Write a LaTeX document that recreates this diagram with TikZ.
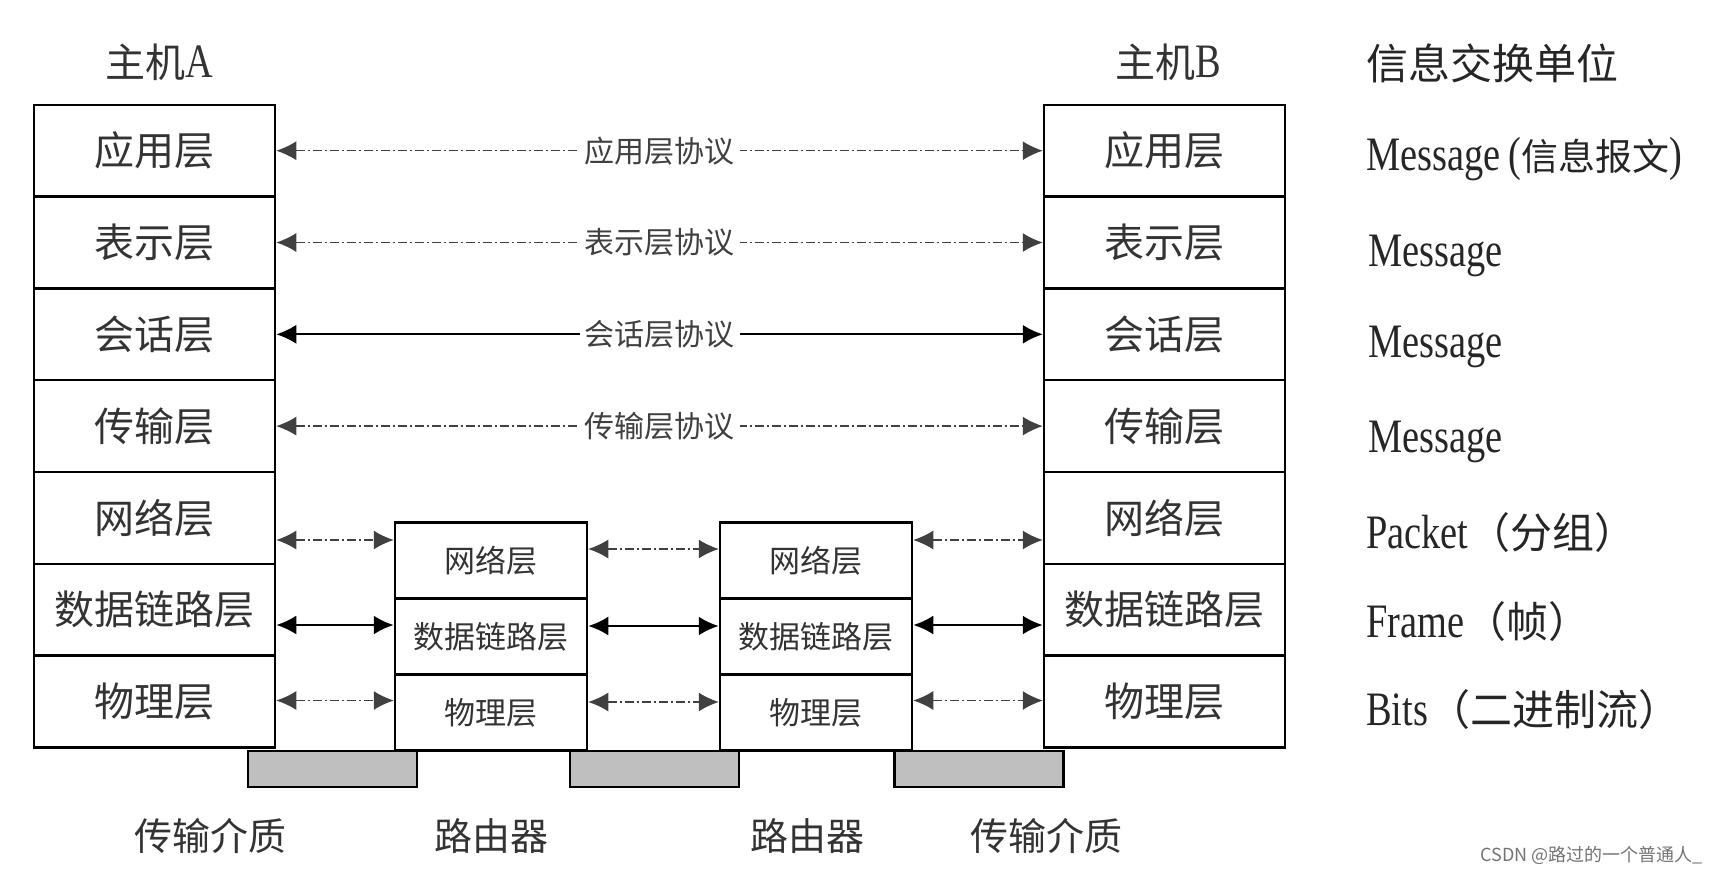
\documentclass[tikz,border=0pt]{standalone}
\usepackage{fontspec}
\setmainfont{Liberation Serif}[FakeStretch=0.8]
\newfontfamily\cjk{Noto Sans CJK SC}
\usetikzlibrary{arrows.meta,positioning}

\newcommand\lat[1]{{\rmfamily\fontsize{48}{48}\selectfont #1}}

\tikzset{
  layer/.style={draw,line width=2.5pt,minimum width=241pt,minimum height=91.8pt,inner sep=0pt,
    font=\cjk\fontsize{40}{40}\selectfont,text=black!80},
  rlayer/.style={draw,line width=2.5pt,minimum width=192pt,minimum height=76pt,inner sep=0pt,
    font=\cjk\fontsize{31}{31}\selectfont,text=black!80},
  medium/.style={draw,line width=2.5pt,fill=black!25,minimum width=169pt,minimum height=36pt,inner sep=0pt},
  tip/.style={{Latex[length=20pt,width=19pt]}-{Latex[length=20pt,width=19pt]}},
  lowdash/.style={tip,line width=1.3pt,black!75,dash pattern=on 9pt off 3pt on 2pt off 3pt},
  lowsolid/.style={tip,line width=2.5pt,black},
  proto/.style={lowdash},
  protosolid/.style={tip,line width=1.8pt,black},
  plabel/.style={fill=white,inner sep=5pt,font=\cjk\fontsize{30}{30}\selectfont,text=black!75},
  title/.style={inner sep=0pt,font=\cjk\fontsize{40}{40}\selectfont,text=black!80},
  unit/.style={anchor=base west,inner sep=0pt,font=\cjk\fontsize{42}{42}\selectfont,text=black!85}
}

\begin{document}
\begin{tikzpicture}[x=1pt,y=-1pt]
\useasboundingbox (0,0) rectangle (1711,876);

% the two hosts
\foreach \t [count=\i] in {应用层,表示层,会话层,传输层,网络层,数据链路层,物理层}{
  \node[layer] (a\i) at (154.5,58.9+91.8*\i) {\t};
  \node[layer] (b\i) at (1164.5,58.9+91.8*\i) {\t};
}
% the two routers
\foreach \t [count=\i] in {网络层,数据链路层,物理层}{
  \node[rlayer] (r\i) at (491,484.7+76*\i) {\t};
  \node[rlayer] (s\i) at (816,484.7+76*\i) {\t};
}

% peer protocols
\draw[proto] (a1.east) -- node[plabel] (p1) {应用层协议} (b1.west);
\draw[proto] (a2.east) -- node[plabel] (p2) {表示层协议} (b2.west);
\draw[protosolid] (a3.east) -- node[plabel] (p3) {会话层协议} (b3.west);
\draw[proto] (a4.east) -- node[plabel] (p4) {传输层协议} (b4.west);

% hop by hop
\foreach \j/\i/\y/\z/\s in {5/1/540/549/lowdash,6/2/625/626/lowsolid,7/3/700.5/702/lowdash}{
  \draw[\s] (a\j.east |- 0,\y) -- (r\i.west |- 0,\y);
  \draw[\s] (r\i.east |- 0,\z) -- (s\i.west |- 0,\z);
  \draw[\s] (s\i.east |- 0,\y) -- (b\j.west |- 0,\y);
}

% media
\node[medium] (m1) at (332.5,769) {};
\node[medium] (m2) at (654.5,769) {};
\node[medium] (m3) at (979,769) {};

\node[title,font=\cjk\fontsize{38}{38}\selectfont] (t1) at (210,836) {传输介质};
\node[title,font=\cjk\fontsize{38}{38}\selectfont] (t2) at (491,836) {路由器};
\node[title,font=\cjk\fontsize{38}{38}\selectfont] (t3) at (807,836) {路由器};
\node[title,font=\cjk\fontsize{38}{38}\selectfont] (t4) at (1046,836) {传输介质};

% headings
\node[title] (ha) at (159,62) {主机\lat{A}};
\node[title] (hb) at (1168,62) {主机\lat{B}};
\node[unit] (u0) at (1366,79) {信息交换单位};

% units
\node[unit] (u1) at (1366,170) {\lat{Message\,(}{\fontsize{37}{37}\selectfont 信息报文}\lat{)}};
\node[unit] (u2) at (1368,266) {\lat{Message}};
\node[unit] (u3) at (1368,357) {\lat{Message}};
\node[unit] (u4) at (1368,452) {\lat{Message}};
\node[unit] (u5) at (1366,548) {\lat{Packet}（分组）};
\node[unit] (u6) at (1366,637) {\lat{Frame}（帧）};
\node[unit] (u7) at (1366,725) {\lat{Bits}（二进制流）};

\node[anchor=east,inner sep=0pt,font=\cjk\fontsize{18}{18}\selectfont,text=black!55] (wm) at (1703,855) {CSDN @路过的一个普通人\_};
\end{tikzpicture}
\end{document}
